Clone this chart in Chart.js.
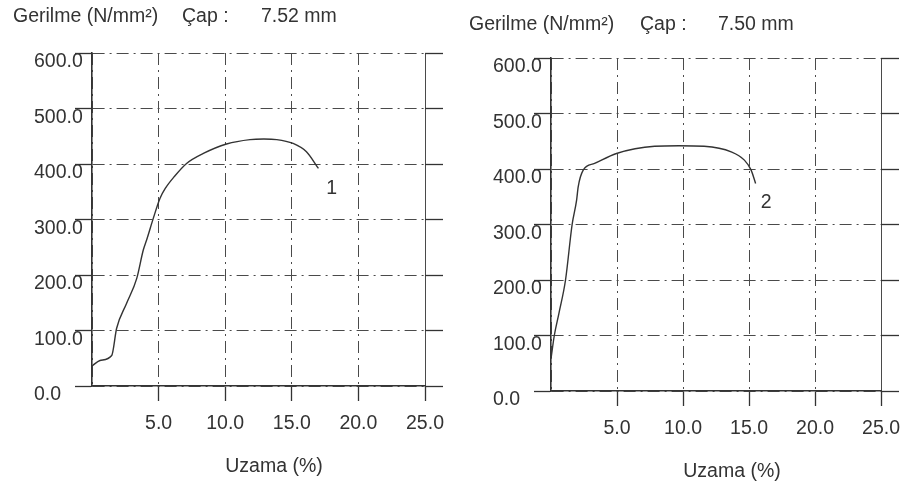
<!DOCTYPE html>
<html>
<head>
<meta charset="utf-8">
<script src="https://cdn.jsdelivr.net/npm/chart.js"></script>
<style>
  body { margin: 0; background: #fff; }
  #page { position: relative; width: 911px; height: 489px; overflow: hidden;
          font-family: 'Liberation Sans', Arial, sans-serif; color: #333; }
  .panel { position: absolute; top: 0; height: 489px; }
  .txt { position: absolute; font-size: 19.5px; line-height: 22px; white-space: nowrap; }
  .caption { transform: translateX(-50%); }
</style>
</head>
<body>
<div id="page">
  <div class="panel" style="left:0;width:455px"><canvas id="chart1" width="455" height="489"></canvas></div>
  <div class="panel" style="left:455px;width:456px"><canvas id="chart2" width="456" height="489"></canvas></div>

  <span class="txt" style="left:13px;top:4px">Gerilme (N/mm²)</span>
  <span class="txt" style="left:182px;top:4px">Çap :</span>
  <span class="txt" style="left:261px;top:4px">7.52 mm</span>
  <span class="txt" style="left:469px;top:12px">Gerilme (N/mm²)</span>
  <span class="txt" style="left:640px;top:12px">Çap :</span>
  <span class="txt" style="left:718px;top:12px">7.50 mm</span>

  <span class="txt caption" style="left:274px;top:454px">Uzama (%)</span>
  <span class="txt caption" style="left:732px;top:459px">Uzama (%)</span>
</div>

<script>
// axis ticks
let xTickLabels = ['', '5.0', '10.0', '15.0', '20.0', '25.0']
let yTickLabels = ['0.0', '100.0', '200.0', '300.0', '400.0', '500.0', '600.0']

// specimen 1 (Çap 7.52 mm), elongation % vs stress N/mm²
let elong1 = [0, 0.6, 1.48, 1.85, 2.6, 3.36, 3.85, 4.1, 4.6, 5.1, 5.5, 6.2, 7.1, 8.36, 10.1, 11.86, 12.9, 13.87, 15.1, 16.1, 17.0]
let stress1 = [36, 46, 55, 104, 149, 194, 245, 263, 302, 338, 356, 378, 401, 419, 436, 444, 445, 444, 437, 422, 392]

// specimen 2 (Çap 7.50 mm)
let elong2 = [0, 0.25, 0.6, 1.1, 1.6, 1.94, 2.06, 2.44, 3.3, 4.96, 7.85, 9.7, 11.6, 13.65, 14.65, 15.16, 15.5]
let stress2 = [58, 100, 140, 200, 300, 344, 368, 398, 410, 428, 441, 442, 441, 431, 416, 398, 374]

// curve numbers and where they sit (data units)
let curveNames = ['1', '2']
let curveNameAt = [[18.0, 355], [16.3, 339]]

let ink = '#333'
let gridInk = '#4a4a4a'
let dashDot = [12, 5, 2, 5]
let font = { family: "'Liberation Sans', Arial, sans-serif", size: 19.5 }

function curveLabel(text, pos) {
    return {
        id: 'curveLabel',
        afterDatasetsDraw(chart) {
            let { ctx, scales } = chart
            ctx.save()
            ctx.font = font.size + 'px ' + font.family
            ctx.fillStyle = ink
            ctx.textAlign = 'center'
            ctx.textBaseline = 'middle'
            ctx.fillText(text, scales.x.getPixelForValue(pos[0]), scales.y.getPixelForValue(pos[1]))
            ctx.restore()
        }
    }
}

function makeChart(id, xs, ys, idx, pad) {
    let points = xs.map((x, i) => ({ x: x, y: ys[i] }))
    return new Chart(document.getElementById(id), {
        type: 'line',
        data: {
            datasets: [{
                data: points,
                borderColor: ink,
                borderWidth: 1.4,
                pointRadius: 0,
                cubicInterpolationMode: 'monotone',
                fill: false
            }]
        },
        options: {
            responsive: false,
            animation: false,
            layout: { padding: pad },
            plugins: { legend: { display: false }, tooltip: { enabled: false } },
            scales: {
                x: {
                    type: 'linear',
                    min: 0,
                    max: 25,
                    afterFit: s => { s.height = 50 },
                    grid: {
                        color: gridInk,
                        lineWidth: 1,
                        tickLength: 15,
                        tickColor: c => (c.tick && c.tick.value === 0) ? 'rgba(0,0,0,0)' : ink,
                        tickWidth: 1.3
                    },
                    border: {
                        color: ink,
                        width: 1.6,
                        dash: c => (c.tick && c.tick.value === 25) ? [] : dashDot
                    },
                    ticks: {
                        stepSize: 5,
                        autoSkip: false,
                        maxRotation: 0,
                        padding: 11,
                        color: ink,
                        font: font,
                        callback: (v, i) => xTickLabels[i]
                    }
                },
                y: {
                    type: 'linear',
                    min: 0,
                    max: 600,
                    afterFit: s => { s.width = 58 },
                    grid: {
                        color: gridInk,
                        lineWidth: 1,
                        tickLength: 17,
                        tickColor: ink,
                        tickWidth: 1.3
                    },
                    border: { color: ink, width: 1.6, dash: dashDot },
                    ticks: {
                        stepSize: 100,
                        crossAlign: 'far',
                        labelOffset: 9,
                        color: ink,
                        font: font,
                        callback: (v, i) => yTickLabels[i]
                    }
                },
                y2: {
                    type: 'linear',
                    position: 'right',
                    min: 0,
                    max: 600,
                    afterFit: s => { s.width = 18 },
                    grid: {
                        drawOnChartArea: false,
                        tickLength: 18,
                        tickColor: ink,
                        tickWidth: 1.3
                    },
                    border: { display: false },
                    ticks: { stepSize: 100, display: false }
                }
            }
        },
        plugins: [curveLabel(curveNames[idx], curveNameAt[idx])]
    })
}

makeChart('chart1', elong1, stress1, 0, { left: 34, right: 12, top: 53, bottom: 53 })
makeChart('chart2', elong2, stress2, 1, { left: 38, right: 11, top: 58, bottom: 48 })
</script>
</body>
</html>
